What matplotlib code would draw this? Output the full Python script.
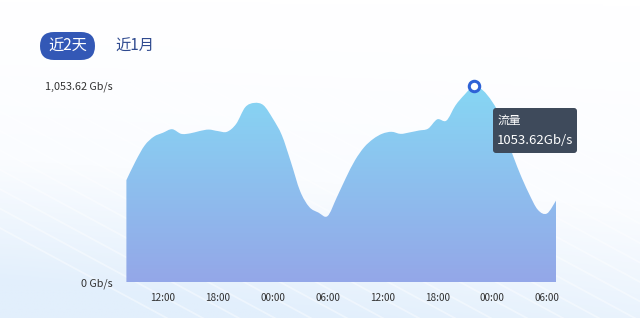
import matplotlib
matplotlib.use('Agg')
import matplotlib.pyplot as plt
import numpy as np
from matplotlib.colors import LinearSegmentedColormap
from matplotlib.patches import FancyBboxPatch, PathPatch
from matplotlib.path import Path

plt.rcParams['font.family'] = ['Noto Sans CJK SC', 'DejaVu Sans']

# hourly traffic, 08:00 day 1 -> 07:00 day 3 (Gb/s)
hours = list(range(48))
traffic = [549, 650, 735, 782, 803, 822, 797, 800, 812, 820,
           812, 808, 850, 940, 963, 950, 880, 790, 645, 490,
           405, 375, 356, 455, 560, 655, 725, 770, 798, 808,
           797, 805, 815, 825, 875, 868, 950, 1008, 1053.62, 1030,
           970, 880, 720, 590, 480, 390, 370, 440]
tick_pos = [4, 10, 16, 22, 28, 34, 40, 46]
tick_labels = ['12:00', '18:00', '00:00', '06:00', '12:00', '18:00', '00:00', '06:00']
y_max = 1053.62
peak_idx = 38


def smooth_area_path(xs, ys):
    # closed bezier path through the points (like a smoothed area series)
    pts = np.column_stack([xs, ys]).astype(float)
    n = len(pts)
    verts = [(pts[0][0], 0), tuple(pts[0])]
    codes = [Path.MOVETO, Path.LINETO]
    for i in range(n - 1):
        p0 = pts[max(i - 1, 0)]
        p1 = pts[i]
        p2 = pts[i + 1]
        p3 = pts[min(i + 2, n - 1)]
        c1 = p1 + (p2 - p0) / 6
        c2 = p2 - (p3 - p1) / 6
        verts += [tuple(c1), tuple(c2), tuple(p2)]
        codes += [Path.CURVE4] * 3
    verts += [(pts[-1][0], 0), (pts[0][0], 0)]
    codes += [Path.LINETO, Path.CLOSEPOLY]
    return Path(verts, codes)


W, H = 640, 318
fig = plt.figure(figsize=(W / 100, H / 100), dpi=100)

# background: white to pale blue, with faint diagonal streaks
bg = fig.add_axes([0, 0, 1, 1], zorder=-10)
bg.axis('off')
bg_cmap = LinearSegmentedColormap.from_list('bg', ['#ffffff', '#fafcff', '#e2effc'])
gy = np.linspace(0, 1, 200).reshape(-1, 1)
gx = np.linspace(0, 1, 200).reshape(1, -1)
grad = np.clip(gy ** 1.3 * 0.85 + (1 - gx) * 0.3 * gy, 0, 1)
bg.imshow(grad, cmap=bg_cmap, extent=[0, W, H, 0], aspect='auto', vmin=0, vmax=1)
for off in range(-200, 700, 36):
    xs = np.array([off - 300, off + 400])
    bg.plot(xs, 120 + (xs - off) * 0.54, color='white', lw=1.3, alpha=0.4)
bg.set_xlim(0, W)
bg.set_ylim(H, 0)

# buttons
bg.add_patch(FancyBboxPatch((40, 32), 55, 28, boxstyle='round,pad=0,rounding_size=14',
                            fc='#3358b6', ec='none', zorder=5))
bg.text(67.5, 46.5, '近2天', color='white', fontsize=11, ha='center', va='center', zorder=6)
bg.text(135, 46.5, '近1月', color='#2f4a8f', fontsize=11, ha='center', va='center', zorder=6)

# chart
ax = fig.add_axes([126.4 / W, 1 - 282.5 / H, (556.1 - 126.4) / W, (282.5 - 86) / H])
ax.set_xlim(0, 47)
ax.set_ylim(0, y_max)
ax.patch.set_alpha(0)
for s in ax.spines.values():
    s.set_visible(False)

area = PathPatch(smooth_area_path(hours, traffic), fc='none', ec='none', transform=ax.transData)
ax.add_patch(area)
fill_cmap = LinearSegmentedColormap.from_list('fill', ['#86d7f4', '#94a7e8'])
img = ax.imshow(np.linspace(0, 1, 256).reshape(-1, 1), cmap=fill_cmap, aspect='auto',
                extent=[0, 47, 0, y_max], origin='upper')
img.set_clip_path(area)

ax.plot([hours[peak_idx]], [traffic[peak_idx]], 'o', ms=7.5, mfc='white', mec='#2e62d6',
        mew=2.2, zorder=5, clip_on=False)

ax.set_xticks(tick_pos)
ax.set_xticklabels(tick_labels, fontsize=7.2, color='#333333')
ax.set_yticks([0, y_max])
ax.set_yticklabels(['0 Gb/s', '1,053.62 Gb/s'], fontsize=7.8, color='#333333')
ax.tick_params(axis='both', length=0)
ax.tick_params(axis='x', pad=7.5)
ax.tick_params(axis='y', pad=10)

# tooltip
tip = fig.add_axes([0, 0, 1, 1], zorder=10)
tip.set_xlim(0, W)
tip.set_ylim(H, 0)
tip.axis('off')
tip.add_patch(FancyBboxPatch((493, 108), 84, 45, boxstyle='round,pad=0,rounding_size=3',
                             fc='#3e4a5b', ec='none'))
tip.text(498, 120, '流量', color='white', fontsize=8.5, ha='left', va='center')
tip.text(496.5, 141, '1053.62Gb/s', color='white', fontsize=9.5, ha='left', va='center')

fig.savefig('out.png', dpi=100)
